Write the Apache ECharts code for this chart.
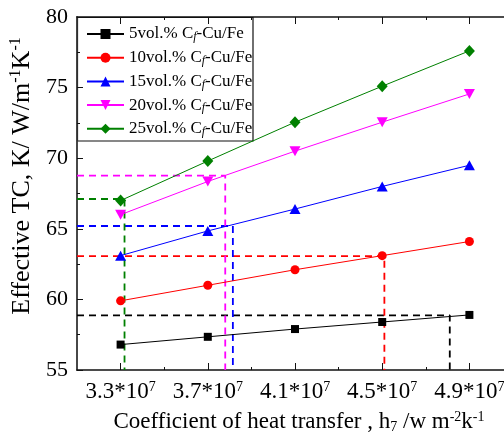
<!DOCTYPE html>
<html>
<head>
<meta charset="utf-8">
<script src="https://cdn.jsdelivr.net/npm/echarts@6/dist/echarts.min.js"></script>
<style>
  html, body { margin: 0; padding: 0; background: #fff; }
  #chart { width: 504px; height: 434px; }
</style>
</head>
<body>
<div id="chart"></div>
<script>
// Heat transfer coefficient (units of 10^7 W m^-2 K^-1)
const hValues = [3.3, 3.7, 4.1, 4.5, 4.9];
const majorTicks = [3.3, 3.7, 4.1, 4.5, 4.9];
const minorTicks = [3.5, 3.9, 4.3, 4.7, 5.1];

// Effective thermal conductivity for each Cf volume fraction
const seriesNames = ['5', '10', '15', '20', '25'];
const tc5  = [56.8, 57.35, 57.9, 58.4, 58.9];
const tc10 = [59.9, 61.0, 62.1, 63.1, 64.1];
const tc15 = [63.1, 64.85, 66.4, 68.0, 69.5];
const tc20 = [66.0, 68.35, 70.5, 72.55, 74.55];
const tc25 = [67.0, 69.8, 72.55, 75.1, 77.6];

// Guide lines: target conductivity and the heat transfer coefficient reaching it
const guideTC = [58.87, 63.07, 65.2, 68.76, 67.11];
const guideH  = [4.81, 4.51, 3.815, 3.78, 3.318];

const X_MIN = 3.1, X_MAX = 5.1, Y_MIN = 55, Y_MAX = 80;

const colors = ['#000000', '#ff0000', '#0000ff', '#ff00ff', '#008000'];
const symbols = ['rect', 'circle', 'triangle', 'path://M0,0 L10,0 L5,9 Z', 'diamond'];
const symbolSizes = [8, 9, [11, 10], [11, 10], [11, 12]];
const tcData = [tc5, tc10, tc15, tc20, tc25];

const FONT = 'Liberation Serif';

const series = [];
// dashed guides first so the data lines sit on top
guideTC.forEach((y, i) => {
  series.push({
    type: 'line',
    name: 'guide' + i,
    xAxisIndex: 0, yAxisIndex: 0,
    data: [[X_MIN, y], [guideH[i], y], [guideH[i], Y_MIN]],
    symbol: 'none',
    silent: true,
    lineStyle: { color: colors[i], width: 1.8, type: [7, 5] },
    z: 1
  });
});
tcData.forEach((vals, i) => {
  series.push({
    type: 'line',
    name: seriesNames[i],
    xAxisIndex: 0, yAxisIndex: 0,
    data: hValues.map((h, k) => [h, vals[k]]),
    symbol: symbols[i],
    symbolSize: symbolSizes[i],
    itemStyle: { color: colors[i] },
    lineStyle: { color: colors[i], width: 1 },
    z: 3
  });
});

const baseX = {
  type: 'value', min: X_MIN, max: X_MAX, gridIndex: 0,
  splitLine: { show: false }
};

const option = {
  animation: false,
  backgroundColor: '#fff',
  textStyle: { fontFamily: FONT, color: '#000' },
  grid: { left: 77, top: 17, width: 436, height: 353, containLabel: false, outerBoundsMode: 'none' },
  xAxis: [
    Object.assign({}, baseX, {
      position: 'bottom',
      axisLine: { onZero: false, lineStyle: { color: '#111', width: 1.5 } },
      axisTick: { inside: true, length: 7, customValues: majorTicks, lineStyle: { color: '#111', width: 1 } },
      axisLabel: {
        customValues: majorTicks,
        margin: 10,
        fontFamily: FONT,
        formatter: v => '{n|' + v.toFixed(1) + '*10}{s|7}',
        rich: {
          n: { fontFamily: FONT, fontSize: 23, color: '#000', lineHeight: 24 },
          s: { fontFamily: FONT, fontSize: 14, color: '#000', lineHeight: 14, verticalAlign: 'top' }
        }
      },
      name: '{a|Coefficient of heat transfer , h}{b|7}{a| /w m}{s|-2}{a|k}{s|-1}',
      nameLocation: 'middle',
      nameGap: 40,
      nameTextStyle: {
        fontFamily: FONT,
        padding: [0, 0, 0, 8],
        rich: {
          a: { fontFamily: FONT, fontSize: 23, color: '#000', lineHeight: 24 },
          b: { fontFamily: FONT, fontSize: 14, color: '#000', lineHeight: 14, verticalAlign: 'bottom' },
          s: { fontFamily: FONT, fontSize: 14, color: '#000', lineHeight: 14, verticalAlign: 'top' }
        }
      }
    }),
    Object.assign({}, baseX, {
      position: 'bottom',
      axisLine: { show: false },
      axisTick: { inside: true, length: 3, customValues: minorTicks, lineStyle: { color: '#111', width: 1 } },
      axisLabel: { show: false }
    }),
    Object.assign({}, baseX, {
      position: 'top',
      axisLine: { onZero: false, lineStyle: { color: '#111', width: 1.5 } },
      axisTick: { inside: true, length: 7, customValues: majorTicks, lineStyle: { color: '#111', width: 1 } },
      axisLabel: { show: false }
    }),
    Object.assign({}, baseX, {
      position: 'top',
      axisLine: { show: false },
      axisTick: { inside: true, length: 3, customValues: minorTicks, lineStyle: { color: '#111', width: 1 } },
      axisLabel: { show: false }
    })
  ],
  yAxis: [{
    type: 'value', min: Y_MIN, max: Y_MAX, interval: 5,
    position: 'left',
    splitLine: { show: false },
    axisLine: { show: true, onZero: false, lineStyle: { color: '#333', width: 1.8 } },
    axisTick: { show: true, inside: true, length: 6, lineStyle: { color: '#111', width: 1 } },
    minorTick: { show: true, splitNumber: 2, length: 3, lineStyle: { color: '#111', width: 1 } },
    axisLabel: { margin: 9, fontFamily: FONT, fontSize: 22, color: '#000' },
    name: '{a|Effective TC, K/ W/m}{s|-1}{a|K}{s|-1}',
    nameLocation: 'middle',
    nameGap: 36,
    nameTextStyle: {
      fontFamily: FONT,
      padding: [0, 0, 0, 35],
      rich: {
        a: { fontFamily: FONT, fontSize: 26, color: '#000', lineHeight: 28 },
        s: { fontFamily: FONT, fontSize: 16, color: '#000', lineHeight: 16, verticalAlign: 'top' }
      }
    }
  }],
  legend: {
    orient: 'vertical',
    left: 86, top: 25.5,
    padding: 0,
    itemWidth: 37, itemHeight: 12.5, itemGap: 6.2,
    data: seriesNames,
    formatter: n => '{a|' + n + 'vol.% C}{f|f}{a|-Cu/Fe}',
    textStyle: {
      fontFamily: FONT,
      rich: {
        a: { fontFamily: FONT, fontSize: 17, color: '#000', lineHeight: 18 },
        f: { fontFamily: FONT, fontSize: 12, fontStyle: 'italic', color: '#000', lineHeight: 12, verticalAlign: 'bottom' }
      }
    }
  },
  graphic: [{
    type: 'rect',
    shape: { x: 77.5, y: 17.5, width: 175.5, height: 123.5 },
    style: { fill: '#fff', stroke: '#111', lineWidth: 1.2 },
    z: 0,
    silent: true
  }],
  series: series
};

const chart = echarts.init(document.getElementById('chart'), null, { renderer: 'canvas' });
chart.setOption(option);
</script>
</body>
</html>
